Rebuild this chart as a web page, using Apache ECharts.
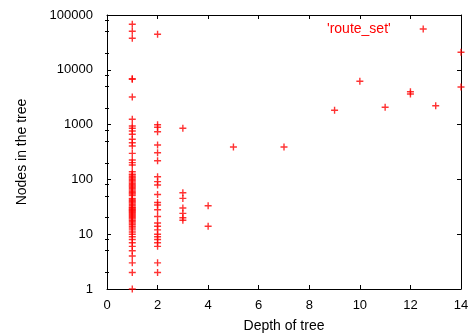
<!DOCTYPE html>
<html>
<head>
<meta charset="utf-8">
<script src="https://cdn.jsdelivr.net/npm/echarts@6/dist/echarts.min.js"></script>
<style>
  html, body { margin: 0; padding: 0; background: #fff; }
  #chart { width: 471px; height: 333px; }
</style>
</head>
<body>
<div id="chart"></div>
<script>
// nodes per tree, grouped by tree depth
const nodesDepth1 = [67600, 50600, 37600, 6900, 6700, 3190, 1250, 943, 856, 764, 665, 539, 467, 407, 299, 226, 202, 183, 138, 125,
    120, 112, 106, 100, 95, 90, 85, 80, 76, 72, 68, 64, 60, 57, 54, 51, 45, 43, 41, 39, 37, 35, 33, 31, 30, 29, 28, 27, 26, 25,
    24, 23, 22, 21, 20, 19, 18, 17, 16, 15, 14, 13, 12, 11, 10, 9, 8, 7, 6, 5, 4, 3, 2, 1];
const nodesDepth2 = [44400, 996, 893, 742, 424, 307, 219, 112, 91, 79, 53, 38, 34, 28, 21, 16, 14, 12, 10, 9, 8, 7, 6, 3, 2];
const nodesDepth3 = [857, 57, 45, 30, 24, 20, 18];
const nodesDepth4 = [33, 14];
const deeperDepths = [5, 7, 9, 10, 11, 12, 12, 13, 14, 14];
const deeperNodes = [390, 390, 1824, 6166, 2069, 3985, 3616, 2213, 20850, 4854];

const yMajor = [1, 10, 100, 1000, 10000, 100000];
const yMinorSteps = [2, 5, 8];

const points = [];
nodesDepth1.forEach(v => points.push([1, v]));
nodesDepth2.forEach(v => points.push([2, v]));
nodesDepth3.forEach(v => points.push([3, v]));
nodesDepth4.forEach(v => points.push([4, v]));
deeperDepths.forEach((d, i) => points.push([d, deeperNodes[i]]));

const yMinor = [];
yMajor.slice(0, -1).forEach(m => yMinorSteps.forEach(s => yMinor.push(m * s)));

const plus = 'path://M4,0H6V4H10V6H6V10H4V6H0V4H4Z';
const font = 'Liberation Sans, Arial, Helvetica, sans-serif';
const frame = { show: true, onZero: false, lineStyle: { color: '#000', width: 1 } };

const xBase = { type: 'value', min: 0, max: 14, interval: 2, splitLine: { show: false } };
const yBase = { type: 'log', logBase: 10, min: 1, max: 100000, splitLine: { show: false } };

const chart = echarts.init(document.getElementById('chart'));
chart.setOption({
    animation: false,
    backgroundColor: '#fff',
    grid: { left: 107, right: 10, top: 15, bottom: 44, containLabel: false, outerBoundsMode: 'none' },
    legend: {
        left: 322,
        top: 17,
        align: 'right',
        itemWidth: 7,
        itemHeight: 7,
        icon: plus,
        textStyle: { color: '#ff0000', fontSize: 14, fontFamily: font, padding: [0, 24, 0, 0] },
        data: ["'route_set'"]
    },
    xAxis: [
        Object.assign({}, xBase, {
            position: 'bottom',
            axisLine: frame,
            axisTick: { inside: true, length: 4, lineStyle: { color: '#000' } },
            axisLabel: { fontSize: 13, color: '#000', fontFamily: font, margin: 10 },
            name: 'Depth of tree',
            nameLocation: 'middle',
            nameGap: 30,
            nameTextStyle: { fontSize: 14, color: '#000', fontFamily: font }
        }),
        Object.assign({}, xBase, {
            position: 'top',
            axisLine: frame,
            axisTick: { inside: true, length: 4, lineStyle: { color: '#000' } },
            axisLabel: { show: false }
        })
    ],
    yAxis: [
        Object.assign({}, yBase, {
            position: 'left',
            axisLine: frame,
            axisTick: { inside: true, length: 4, lineStyle: { color: '#000' } },
            axisLabel: {
                fontSize: 13, color: '#000', fontFamily: font, margin: 14,
                formatter: v => String(Math.round(v))
            },
            name: 'Nodes in the tree',
            nameLocation: 'middle',
            nameGap: 78,
            nameRotate: 90,
            nameTextStyle: { fontSize: 14, color: '#000', fontFamily: font }
        }),
        Object.assign({}, yBase, {
            position: 'right',
            axisLine: frame,
            axisTick: { inside: true, length: 4, lineStyle: { color: '#000' } },
            axisLabel: { show: false }
        }),
        // minor ticks, left and right
        Object.assign({}, yBase, {
            position: 'left',
            axisLine: { show: false },
            axisTick: { inside: true, length: 2, customValues: yMinor, lineStyle: { color: '#000' } },
            axisLabel: { show: false }
        }),
        Object.assign({}, yBase, {
            position: 'right',
            axisLine: { show: false },
            axisTick: { inside: true, length: 2, customValues: yMinor, lineStyle: { color: '#000' } },
            axisLabel: { show: false }
        })
    ],
    series: [{
        name: "'route_set'",
        type: 'scatter',
        xAxisIndex: 0,
        yAxisIndex: 0,
        symbol: plus,
        symbolSize: 7,
        itemStyle: { color: '#ff0000' },
        clip: false,
        data: points
    }]
});
</script>
</body>
</html>
